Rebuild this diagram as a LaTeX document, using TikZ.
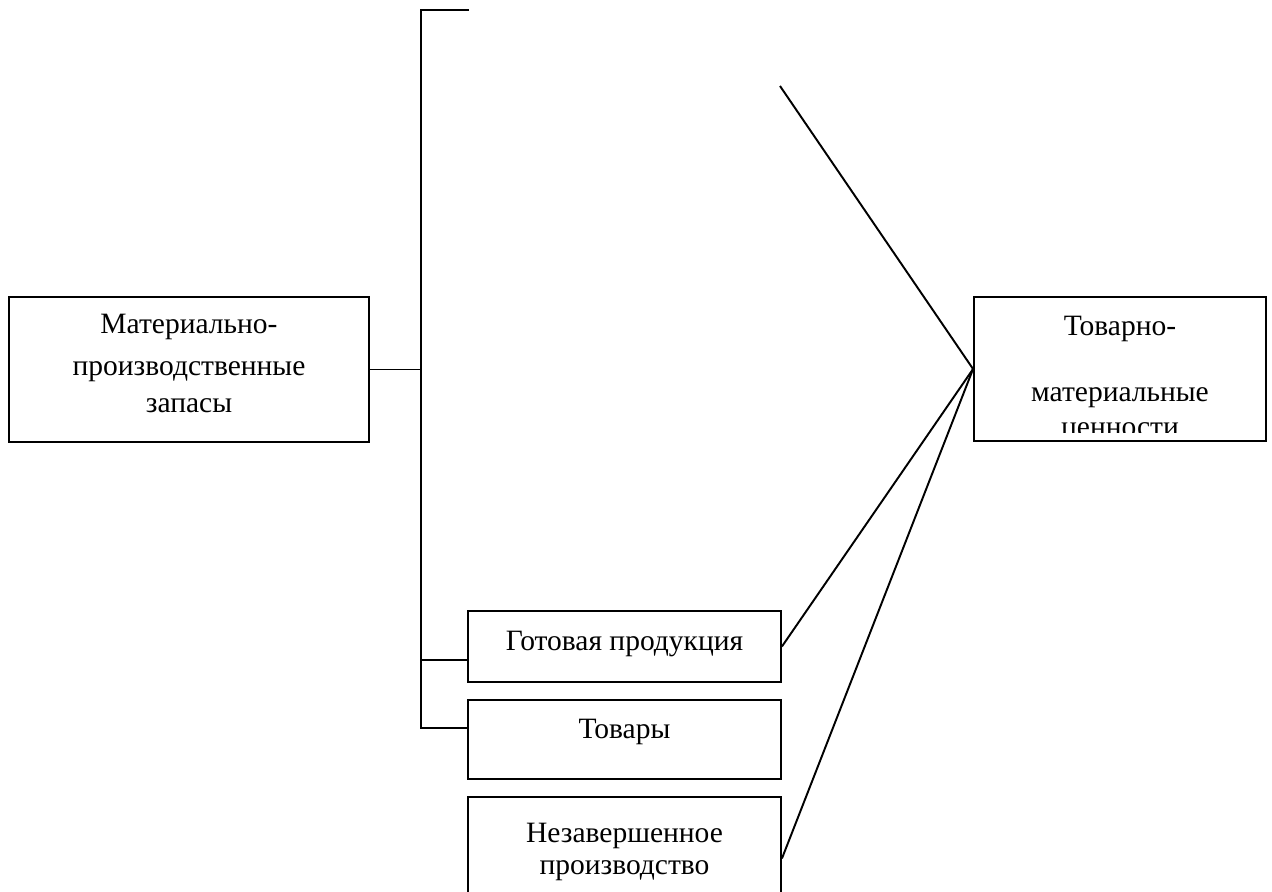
\documentclass[tikz,border=0pt]{standalone}
\usepackage{fontspec}
\setmainfont{Liberation Serif}
\usetikzlibrary{positioning}

\begin{document}
\begin{tikzpicture}[
  x=0.02cm, y=-0.02cm,
  every node/.style={font=\fontsize{16.8}{20}\selectfont},
  box/.style={draw,line width=1.1pt,inner sep=0pt,minimum width=6.26cm},
  txt/.style={anchor=base,inner sep=0pt},
  link/.style={line width=1.1pt},
]
  \useasboundingbox (0,0) rectangle (1272,892);
  \clip (0,0) rectangle (1272,892);

  % Materialno-proizvodstvennye zapasy
  \node[box,minimum width=7.2cm,minimum height=2.9cm] (mpz) at (189,369.5) {};
  \node[txt] at (189,333) {Материально-};
  \node[txt] at (189,375) {производственные};
  \node[txt] at (189,412) {запасы};

  % Tovarno-materialnye cennosti
  \node[box,minimum width=5.84cm,minimum height=2.88cm] (tmc) at (1120,369) {};
  \begin{scope}
    \clip (976,299) rectangle (1264,432);
    \node[txt] at (1120,335) {Товарно-};
    \node[txt] at (1120,401) {материальные};
    \node[txt] at (1120,436) {ценности};
  \end{scope}

  % Gotovaya produkciya
  \node[box,minimum height=1.42cm] (gp) at (624.5,646.5) {};
  \node[txt] at (624.5,650) {Готовая продукция};

  % Tovary
  \node[box,minimum height=1.58cm] (tv) at (624.5,739.5) {};
  \node[txt] at (624.5,738) {Товары};

  % Nezavershennoe proizvodstvo
  \node[box,minimum height=2.46cm] (nz) at (624.5,858.5) {};
  \node[txt] at (624.5,842) {Незавершенное};
  \node[txt] at (624.5,874) {производство};

  % Bracket
  \coordinate (btop) at (421,10);
  \coordinate (bend) at (469,10);
  \coordinate (gpin) at ([yshift=-0.27cm]gp.west);
  \coordinate (tvin) at ([yshift=0.23cm]tv.west);
  \draw[link] (bend) -- (btop) -- (btop |- tvin) -- (tvin);
  \draw[link] (btop |- gpin) -- (gpin);
  \draw[link] (mpz.east) -- (btop |- mpz.east);

  % Diagonals
  \coordinate (dtop) at (780,86);
  \draw[link] (dtop) -- (tmc.west);
  \draw[link] (gp.east) -- (tmc.west);
  \draw[link] (nz.east) -- (tmc.west);
\end{tikzpicture}
\end{document}
